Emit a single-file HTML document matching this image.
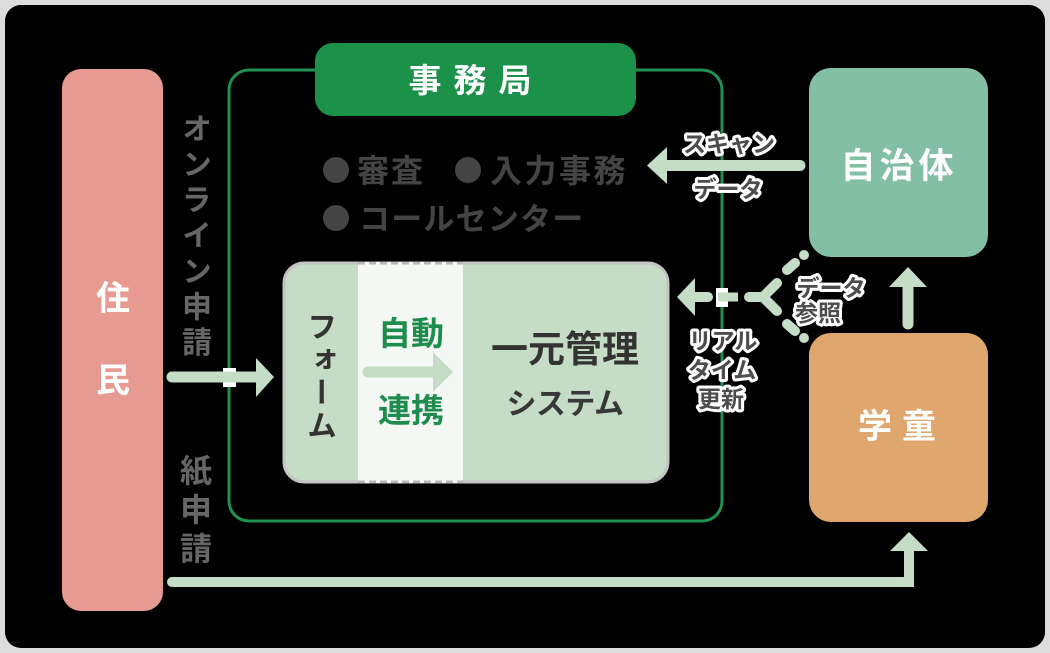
<!DOCTYPE html>
<html><head><meta charset="utf-8">
<style>
html,body{margin:0;padding:0;}
body{width:1050px;height:653px;position:relative;overflow:hidden;background:#dcdcdc;font-family:"Liberation Sans","Noto Sans CJK JP",sans-serif;}
svg{position:absolute;left:0;top:0;}
.v{position:absolute;writing-mode:vertical-rl;line-height:1;font-family:"Noto Sans CJK JP",sans-serif;white-space:nowrap;}
</style></head>
<body>
<svg width="1050" height="653" viewBox="0 0 1050 653" xmlns="http://www.w3.org/2000/svg" font-family="'Noto Sans CJK JP', sans-serif">
  <rect x="5" y="5" width="1040" height="643" rx="16" fill="#000"/>
  <!-- residents -->
  <rect x="62" y="69" width="101" height="542" rx="19" fill="#e69a90"/>
  <text x="113" y="310" font-size="34" font-weight="700" fill="#fff" text-anchor="middle">住</text>
  <text x="113" y="392" font-size="34" font-weight="700" fill="#fff" text-anchor="middle">民</text>

  <!-- office outline -->
  <rect x="229" y="70" width="493" height="451" rx="20" fill="none" stroke="#1f9150" stroke-width="3"/>
  <rect x="315" y="43" width="321" height="73" rx="18" fill="#1b9149"/>
  <text x="476" y="92" font-size="33" font-weight="700" fill="#fff" text-anchor="middle" letter-spacing="12">事務局</text>

  <!-- bullets -->
  <g fill="#444" font-size="32" font-weight="700">
    <circle cx="336" cy="170" r="13"/>
    <text x="357" y="182" letter-spacing="2">審査</text>
    <circle cx="468" cy="170" r="13"/>
    <text x="490" y="182" letter-spacing="2.5">入力事務</text>
    <circle cx="336" cy="218" r="13"/>
    <text x="359" y="230" font-size="31" letter-spacing="1.2">コールセンター</text>
  </g>

  <!-- system box -->
  <rect x="284" y="263" width="384" height="219" rx="20" fill="#c5dcc6" stroke="#c4c4c4" stroke-width="3"/>
  <rect x="358" y="262" width="105" height="221" fill="#f4f7f3"/>
  <line x1="358" y1="263" x2="463" y2="263" stroke="#b8b8b8" stroke-width="3" stroke-dasharray="7,4"/>
  <line x1="358" y1="482" x2="463" y2="482" stroke="#b8b8b8" stroke-width="3" stroke-dasharray="7,4"/>
  <text x="411" y="345" font-size="33" font-weight="700" fill="#1e8c4c" text-anchor="middle">自動</text>
  <text x="411" y="422" font-size="33" font-weight="700" fill="#1e8c4c" text-anchor="middle">連携</text>
  <line x1="368" y1="372" x2="434" y2="372" stroke="#c5dcc6" stroke-width="11" stroke-linecap="round"/>
  <polygon points="453,372 433,352 433,392" fill="#c5dcc6"/>
  <text x="565" y="362" font-size="37" font-weight="700" fill="#333" text-anchor="middle">一元管理</text>
  <text x="565" y="414" font-size="30" font-weight="700" fill="#383838" text-anchor="middle" letter-spacing="-0.5">システム</text>

  <!-- jichitai / gakudo -->
  <rect x="809" y="68" width="179" height="189" rx="22" fill="#82bfa5"/>
  <text x="899" y="178" font-size="35" font-weight="700" fill="#fff" text-anchor="middle" letter-spacing="4">自治体</text>
  <rect x="809" y="333" width="179" height="189" rx="22" fill="#dfa66e"/>
  <text x="902" y="438" font-size="34" font-weight="700" fill="#fff" text-anchor="middle" letter-spacing="10">学童</text>

  <!-- online arrow -->
  <rect x="223" y="368" width="13" height="19" fill="#fff"/>
  <line x1="172" y1="377" x2="257" y2="377" stroke="#c5dcc6" stroke-width="11" stroke-linecap="round"/>
  <polygon points="274,377 256,358 256,397" fill="#c5dcc6"/>

  <!-- paper arrow -->
  <path d="M172,582 H909 V548" fill="none" stroke="#c5dcc6" stroke-width="10" stroke-linecap="round"/>
  <polygon points="909,532 890,551 928,551" fill="#c5dcc6"/>

  <!-- up arrow -->
  <line x1="908" y1="324" x2="908" y2="286" stroke="#c5dcc6" stroke-width="11" stroke-linecap="round"/>
  <polygon points="908,267 889,287 927,287" fill="#c5dcc6"/>

  <!-- scan arrow -->
  <line x1="665" y1="165.5" x2="800" y2="165.5" stroke="#c5dcc6" stroke-width="11" stroke-linecap="round"/>
  <polygon points="647,165.5 667,147 667,184" fill="#c5dcc6"/>

  <!-- realtime dashed fork -->
  <g stroke="#c5dcc6" stroke-width="10" stroke-linecap="round" fill="none">
    <line x1="694" y1="297" x2="708" y2="297"/>
    <line x1="749" y1="297" x2="760" y2="297"/>
    <polyline points="777,283 763,297 777,311" stroke-linejoin="round"/>
    <line x1="787" y1="270" x2="795" y2="263"/>
    <line x1="787" y1="324" x2="795" y2="331"/>
  </g>
  <rect x="716" y="288" width="12" height="19" fill="#fff"/>
  <line x1="718" y1="297" x2="738" y2="297" stroke="#c5dcc6" stroke-width="9"/>
  <polygon points="677,297 695,278 695,316" fill="#c5dcc6"/>
  <circle cx="804" cy="255" r="5" fill="#c5dcc6"/>
  <circle cx="804" cy="338" r="5" fill="#c5dcc6"/>

  <!-- outlined labels -->
  <g font-size="23" font-weight="700" fill="#4d4d4d" stroke="#fff" stroke-width="6" stroke-linejoin="round" paint-order="stroke" text-anchor="middle">
    <text x="729" y="152">スキャン</text>
    <text x="728" y="197">データ</text>
    <text x="831" y="296">データ</text>
    <text x="818" y="321">参照</text>
    <text x="723" y="349">リアル</text>
    <text x="722" y="378">タイム</text>
    <text x="721" y="407">更新</text>
  </g>
</svg>

<div class="v" style="left:182px;top:113px;font-size:30px;letter-spacing:5.6px;color:#666;font-weight:700;">オンライン申請</div>
<div class="v" style="left:180px;top:454px;font-size:32px;letter-spacing:7px;color:#666;font-weight:700;">紙申請</div>
<div class="v" style="left:307px;top:311px;font-size:30px;letter-spacing:3px;color:#333;font-weight:700;">フォーム</div>
</body></html>
